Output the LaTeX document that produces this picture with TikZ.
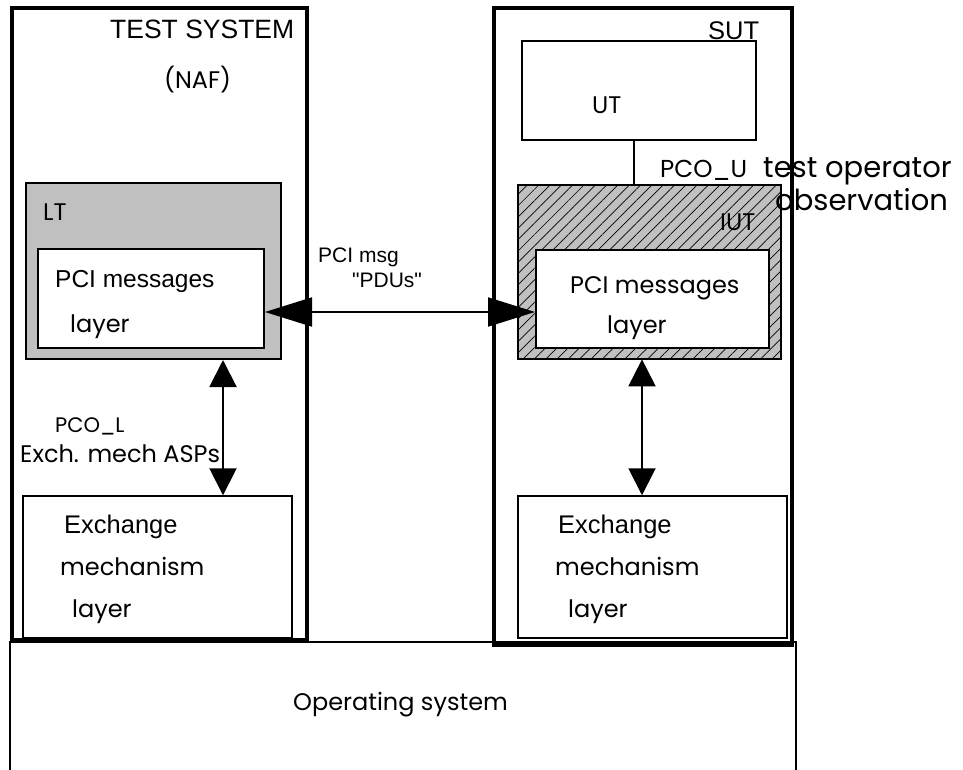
\documentclass[tikz,border=0pt]{standalone}
\usepackage{fontspec}
\setmainfont{Liberation Sans}
\newfontfamily\gothic{Poppins}
\usetikzlibrary{arrows.meta,positioning,patterns.meta}
\definecolor{ltgray}{RGB}{192,192,192}
\tikzstyle{system}=[draw,line width=4pt,inner sep=0pt]
\tikzstyle{entity}=[draw,line width=2pt,inner sep=0pt]
\tikzstyle{layerbox}=[draw,line width=2pt,fill=white,inner sep=0pt]
\tikzstyle{mechbox}=[draw,line width=1.5pt,fill=white,inner sep=0pt]
\tikzstyle{lbl}=[anchor=base west,inner sep=0pt,font=\gothic\fontsize{24}{26}\selectfont]
\tikzstyle{albl}=[anchor=base west,inner sep=0pt,font=\fontsize{25.5}{27}\selectfont]
\tikzstyle{msg}=[line width=2pt,{Triangle[length=47pt,width=29pt]}-{Triangle[length=47pt,width=29pt]}]
\tikzstyle{asp}=[line width=2pt,{Triangle[length=27pt,width=27pt]}-{Triangle[length=27pt,width=27pt]}]

\begin{document}
\begin{tikzpicture}[x=1pt,y=-1pt]
\clip (0,0) rectangle (963,769);
% operating system below both sides
\node[mechbox,minimum width=786pt,minimum height=158pt] (os) at (403,721) {};
\node[lbl] (ostxt) at (293,710) {Operating system};
% test system side
\node[system,minimum width=295pt,minimum height=632pt] (ts) at (159.5,324) {};
\node[albl,font=\fontsize{26.5}{28}\selectfont] (tstxt) at (110,38) {TEST SYSTEM};
\node[lbl] (naf) at (164,88) {(NAF)};
\node[entity,fill=ltgray,minimum width=255pt,minimum height=176pt] (lt) at (153.5,271) {};
\node[lbl] (lttxt) at (43,220) {LT};
\node[layerbox,minimum width=226pt,minimum height=99pt] (lpci) at (151,298.5) {};
\node[albl,font=\fontsize{24.5}{26}\selectfont] (lpcitxt) at (55,287) {PCI messages};
\node[lbl] (lpcilay) at (70,332) {layer};
\node[mechbox,minimum width=269pt,minimum height=142pt] (lex) at (157.5,567) {};
\node[albl] (lextxt) at (64,533) {Exchange};
\node[lbl] (lexmech) at (60,575) {mechanism};
\node[lbl] (lexlay) at (72,617) {layer};
\node[lbl,font=\gothic\fontsize{21}{23}\selectfont] (pcol) at (55,432) {PCO\_L};
\node[lbl] (asps) at (20,462) {Exch. mech ASPs};
% SUT side
\node[system,minimum width=298pt,minimum height=637pt] (sut) at (643,326.5) {};
\node[albl] (suttxt) at (708,39) {SUT};
\node[mechbox,minimum width=234pt,minimum height=99pt] (ut) at (639,90.5) {};
\node[lbl] (uttxt) at (592,113) {UT};
\node[entity,preaction={fill=ltgray},pattern={Lines[angle=45,distance=8pt,line width=0.7pt]},
  minimum width=263pt,minimum height=174pt] (iut) at (649.5,272) {};
\node[lbl] (iuttxt) at (720,230) {IUT};
\node[layerbox,minimum width=233pt,minimum height=98pt] (rpci) at (652.5,299) {};
\node[lbl] (rpcitxt) at (570,293) {PCI messages};
\node[lbl] (rpcilay) at (607,333) {layer};
\node[mechbox,minimum width=269pt,minimum height=142pt] (rex) at (652.5,567) {};
\node[albl] (rextxt) at (558,533) {Exchange};
\node[lbl] (rexmech) at (555,575) {mechanism};
\node[lbl] (rexlay) at (568,617) {layer};
\node[lbl,font=\gothic\fontsize{24.5}{26}\selectfont] (pcou) at (660,177) {PCO\_U};
\node[lbl,font=\gothic\fontsize{29}{31}\selectfont] (oper) at (763,177) {test operator};
\node[lbl,font=\gothic\fontsize{29}{31}\selectfont] (obs) at (775,210) {observation};
% connectors
\draw[line width=2pt] ([xshift=-5pt]ut.south) -- ([xshift=-15.5pt]iut.north);
\draw[msg] ([yshift=-13.5pt]lpci.east) -- ([yshift=-13pt]rpci.west);
\node[albl,font=\fontsize{21}{23}\selectfont] (pcimsg) at (318,262) {PCI msg};
\node[albl,font=\fontsize{21}{23}\selectfont] (pdus) at (352,287) {\textquotedbl PDUs\textquotedbl};
\draw[asp] ([xshift=69.5pt]lt.south) -- ([xshift=65.5pt]lex.north);
\draw[asp] ([xshift=-7.5pt]iut.south) -- ([xshift=-10.5pt]rex.north);
\end{tikzpicture}
\end{document}
